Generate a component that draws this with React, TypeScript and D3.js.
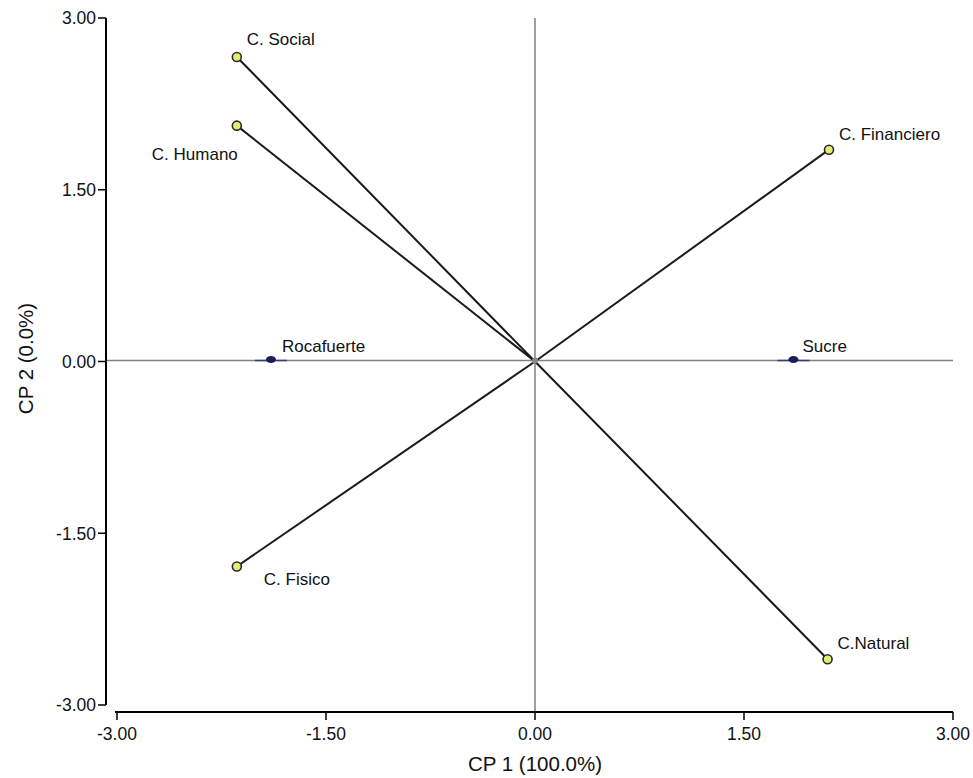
import React from "react";
import * as d3 from "d3";

// biplot values
const variableNames = ["C. Social", "C. Humano", "C. Financiero", "C. Fisico", "C.Natural"];
const variableX = [-2.14, -2.14, 2.11, -2.14, 2.1];
const variableY = [2.66, 2.06, 1.85, -1.79, -2.6];

const siteNames = ["Rocafuerte", "Sucre"];
const siteX = [-1.895, 1.855];
const siteY = [0.0, 0.0];

const xTicks = [-3, -1.5, 0, 1.5, 3];
const yTicks = [-3, -1.5, 0, 1.5, 3];

const W = 973;
const H = 778;

// label offsets relative to the point
const varLabel = [
  { dx: 10, dy: -12, anchor: "start" },
  { dx: 1, dy: 34, anchor: "end" },
  { dx: 10, dy: -10, anchor: "start" },
  { dx: 27, dy: 19, anchor: "start" },
  { dx: 10, dy: -10, anchor: "start" },
];
const siteLabel = [
  { dx: 11, dy: -10 },
  { dx: 9, dy: -10 },
];

export default function App() {
  const x = d3.scaleLinear().domain([-3, 3]).range([117, 953]);
  const y = d3.scaleLinear().domain([-3, 3]).range([705, 18]);
  const f2 = d3.format(".2f");
  const fmt = (v: number) => f2(v).replace("\u2212", "-");
  const font = "'Liberation Sans', Arial, sans-serif";

  const axisY = 106;
  const axisX = 712;

  return (
    <svg
      width={W}
      height={H}
      style={{ position: "absolute", left: 0, top: 0, background: "#fff" }}
      fontFamily={font}
    >
      {/* zero reference lines */}
      <line x1={axisY} x2={953} y1={y(0) - 1} y2={y(0) - 1} stroke="#808080" strokeWidth={1.5} />
      <line x1={x(0)} x2={x(0)} y1={18} y2={axisX} stroke="#808080" strokeWidth={1.5} />

      {/* y axis */}
      <line x1={axisY} x2={axisY} y1={y(3)} y2={y(-3)} stroke="#000" strokeWidth={2} />
      {yTicks.map((t) => (
        <g key={"y" + t}>
          <line x1={axisY - 8} x2={axisY} y1={y(t)} y2={y(t)} stroke="#000" strokeWidth={1.5} />
          <text x={axisY - 10} y={y(t)} dy="0.36em" textAnchor="end" fontSize={17.5} fill="#111">
            {fmt(t)}
          </text>
        </g>
      ))}

      {/* x axis */}
      <line x1={x(-3) - 2} x2={x(3)} y1={axisX} y2={axisX} stroke="#000" strokeWidth={2} />
      {xTicks.map((t) => (
        <g key={"x" + t}>
          <line x1={x(t)} x2={x(t)} y1={axisX} y2={axisX + 8} stroke="#000" strokeWidth={1.5} />
          <text x={x(t)} y={axisX + 28} textAnchor="middle" fontSize={17.5} fill="#111">
            {fmt(t)}
          </text>
        </g>
      ))}

      {/* axis titles */}
      <text x={x(0)} y={771} textAnchor="middle" fontSize={20.5} fill="#111">
        CP 1 (100.0%)
      </text>
      <text
        transform={`translate(33, ${y(0) - 3}) rotate(-90)`}
        textAnchor="middle"
        fontSize={20.5}
        fill="#111"
      >
        CP 2 (0.0%)
      </text>

      {/* variable vectors */}
      {variableNames.map((n, i) => (
        <line
          key={"v" + n}
          x1={x(0)}
          y1={y(0)}
          x2={x(variableX[i])}
          y2={y(variableY[i])}
          stroke="#1a1a1a"
          strokeWidth={2}
        />
      ))}
      <circle cx={x(0)} cy={y(0) - 1} r={3} fill="#8a8a8a" />

      {/* sites */}
      {siteNames.map((n, i) => (
        <g key={"s" + n}>
          <line
            x1={x(siteX[i]) - 16}
            x2={x(siteX[i]) + 16}
            y1={y(siteY[i]) - 1}
            y2={y(siteY[i]) - 1}
            stroke="#3a3a7a"
            strokeWidth={1.5}
          />
          <ellipse cx={x(siteX[i])} cy={y(siteY[i]) - 2} rx={5} ry={3.5} fill="#1c1c5c" />
          <text
            x={x(siteX[i]) + siteLabel[i].dx}
            y={y(siteY[i]) + siteLabel[i].dy}
            fontSize={17}
            fill="#111"
          >
            {n}
          </text>
        </g>
      ))}

      {/* variable points and labels */}
      {variableNames.map((n, i) => (
        <g key={"p" + n}>
          <circle
            cx={x(variableX[i])}
            cy={y(variableY[i])}
            r={4.5}
            fill="#e4ec78"
            stroke="#2a2a2a"
            strokeWidth={1.6}
          />
          <text
            x={x(variableX[i]) + varLabel[i].dx}
            y={y(variableY[i]) + varLabel[i].dy}
            textAnchor={varLabel[i].anchor}
            fontSize={17}
            fill="#111"
          >
            {n}
          </text>
        </g>
      ))}
    </svg>
  );
}
